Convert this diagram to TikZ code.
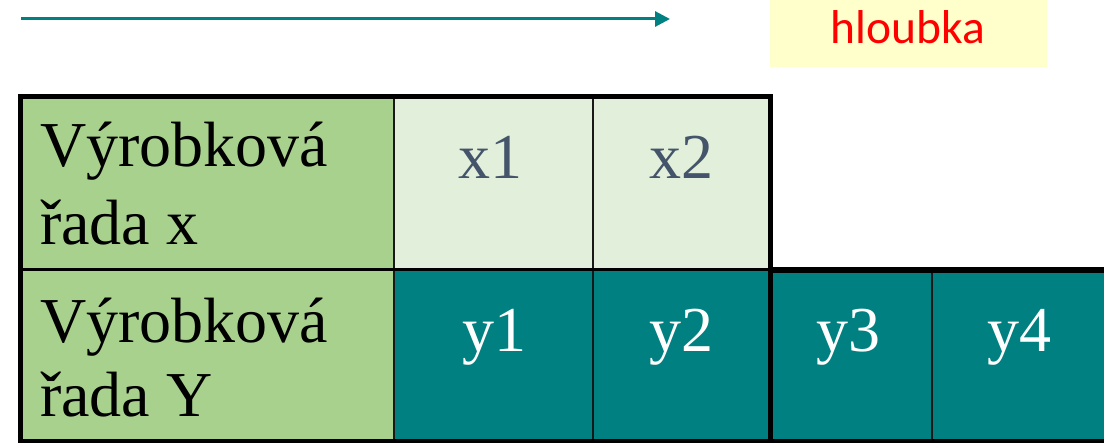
\documentclass[tikz,border=0pt]{standalone}
\usepackage{fontspec}
\setmainfont{Liberation Serif}
\newfontfamily\labelfont{Carlito}
\usetikzlibrary{arrows.meta}
\definecolor{tealc}{RGB}{0,128,128}
\definecolor{headgreen}{RGB}{169,209,142}
\definecolor{paleg}{RGB}{226,239,218}
\definecolor{slatec}{RGB}{68,84,106}
\definecolor{paley}{RGB}{255,255,204}
\definecolor{redc}{RGB}{255,0,0}
\begin{document}
\begin{tikzpicture}[x=1pt,y=-1pt,
  cellbox/.style={rectangle,anchor=north west,inner sep=0pt,outer sep=0pt,draw=none},
  rowtext/.style={anchor=base west,inner sep=0pt,font=\fontsize{64}{70}\selectfont,text=black},
  xtext/.style={anchor=base,inner sep=0pt,font=\fontsize{64}{70}\selectfont,text=slatec},
  ytext/.style={anchor=base,inner sep=0pt,font=\fontsize{64}{70}\selectfont,text=white},
  thinline/.style={line width=2.5pt,draw=black!90},
  thickline/.style={line width=5pt,draw=black,line cap=rect}]
\useasboundingbox (0,0) rectangle (1104,443);
% arrow
\coordinate (a0) at (21,19);
\coordinate (a1) at (670,19);
\draw[tealc,line width=3pt,-{Triangle[length=15pt,width=15pt]}] (a0) -- (a1);
% hloubka box
\node[cellbox,fill=paley,minimum width=277pt,minimum height=67pt] (hbox) at (770,0) {};
\node[anchor=base,inner sep=0pt,font=\labelfont\fontsize{47.5}{50}\selectfont,text=redc] (htext) at (908,44) {hloubka};
% cells
\node[cellbox,fill=headgreen,minimum width=374pt,minimum height=173pt] (h1) at (20,97) {};
\node[cellbox,fill=headgreen,minimum width=374pt,minimum height=171pt] (h2) at (20,270) {};
\node[cellbox,fill=paleg,minimum width=199pt,minimum height=173pt] (x1) at (394,97) {};
\node[cellbox,fill=paleg,minimum width=177pt,minimum height=173pt] (x2) at (593,97) {};
\node[cellbox,fill=tealc,minimum width=199pt,minimum height=171pt] (y1) at (394,270) {};
\node[cellbox,fill=tealc,minimum width=177pt,minimum height=171pt] (y2) at (593,270) {};
\node[cellbox,fill=tealc,minimum width=162pt,minimum height=171pt] (y3) at (770,270) {};
\node[cellbox,fill=tealc,minimum width=172pt,minimum height=171pt] (y4) at (932,270) {};
% texts
\node[rowtext] (t1a) at (40,167) {Výrobková};
\node[rowtext] (t1b) at (40,245) {řada x};
\node[rowtext] (t2a) at (40,343) {Výrobková};
\node[rowtext] (t2b) at (40,417) {řada Y};
\node[xtext] (tx1) at (490,179) {x1};
\node[xtext] (tx2) at (681,179) {x2};
\node[ytext] (ty1) at (494,352) {y1};
\node[ytext] (ty2) at (681,352) {y2};
\node[ytext] (ty3) at (848,352) {y3};
\node[ytext] (ty4) at (1019,352) {y4};
% thin grid lines
\draw[thinline] (h1.north east) -- (h2.south east);
\draw[thinline] (x2.north west) -- (y2.south west);
\draw[thinline] (y4.north west) -- (y4.south west);
\draw[line width=3pt,draw=black] (h1.south west) -- (x2.south east);
% thick borders
\draw[thickline] (h1.north west) -- (x2.north east);
\draw[thickline] (h1.north west) -- (20,443);
\draw[thickline] (x2.north east) -- (770,443);
\draw[line width=6pt,draw=black] (y3.north west) -- (1104,270);
\draw[line width=4pt,draw=black] (20,441.5) -- (1104,441.5);
\end{tikzpicture}
\end{document}
